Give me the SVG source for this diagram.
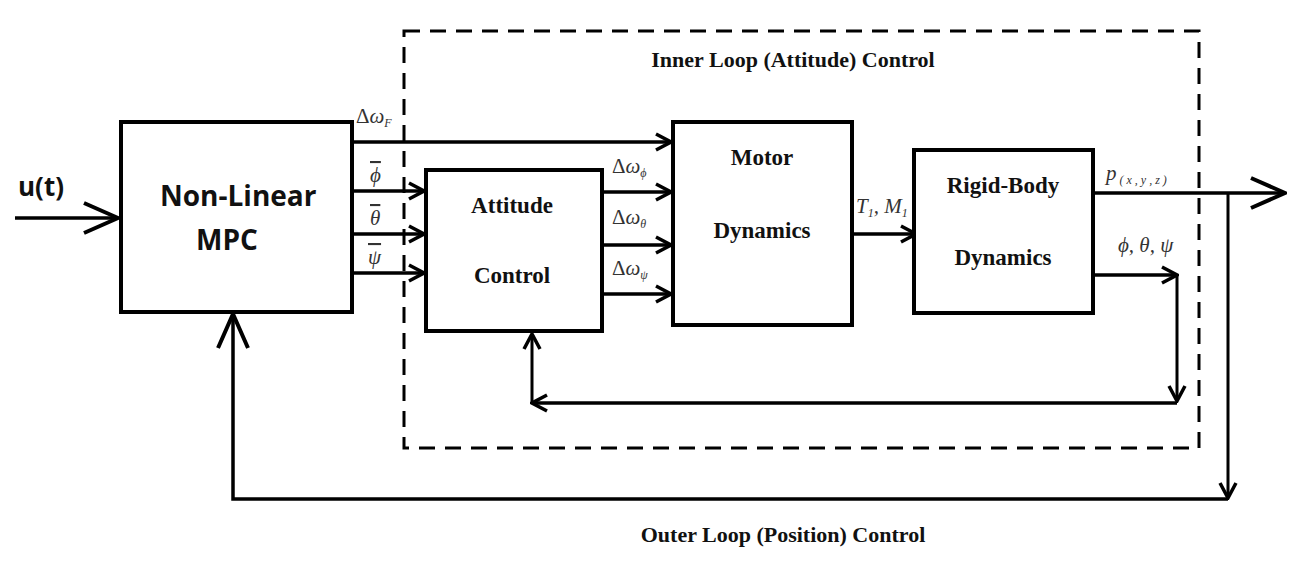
<svg xmlns="http://www.w3.org/2000/svg" width="1294" height="565" viewBox="0 0 1294 565">
<style>
.box{fill:#fff;stroke:#000;stroke-width:4}
.ln{fill:none;stroke:#000;stroke-width:3.5}
.thin{fill:none;stroke:#000;stroke-width:3}
.dash{fill:none;stroke:#000;stroke-width:3;stroke-dasharray:16 10}
.tb{font-family:"Liberation Serif",serif;font-weight:bold;fill:#111;font-size:23px;text-anchor:middle}
.sb{font-family:"Open Sans","Liberation Sans",sans-serif;font-weight:bold;fill:#111;font-size:28px}
.lab{font-family:"Liberation Serif",serif;font-style:italic;fill:#333;font-size:21px}
.up{font-style:normal}
.ov{text-decoration:overline}
.sub{font-size:12px}
</style>
<defs>
<marker id="a" viewBox="0 0 20 20" refX="18" refY="10" markerWidth="20" markerHeight="20" markerUnits="userSpaceOnUse" orient="auto"><path d="M3,2 L18,10 L3,18" fill="none" stroke="#000" stroke-width="3.5"/></marker>
<marker id="b" viewBox="0 0 40 34" refX="38" refY="17" markerWidth="40" markerHeight="34" markerUnits="userSpaceOnUse" orient="auto"><path d="M4,2 L38,17 L4,32" fill="none" stroke="#000" stroke-width="4"/></marker>
</defs>
<rect class="dash" x="404" y="31" width="795" height="417"/>
<text class="tb" x="793" y="67" style="font-size:22px">Inner Loop (Attitude) Control</text>
<text class="tb" x="783" y="542" style="font-size:22px">Outer Loop (Position) Control</text>
<g id="connectors">
<path class="ln" d="M15,218 L118,218" marker-end="url(#b)"/>
<path class="ln" d="M352,142 L671,142" marker-end="url(#a)"/>
<path class="ln" d="M352,191 L424,191" marker-end="url(#a)"/>
<path class="ln" d="M352,234 L424,234" marker-end="url(#a)"/>
<path class="ln" d="M352,273 L424,273" marker-end="url(#a)"/>
<path class="ln" d="M602,192 L671,192" marker-end="url(#a)"/>
<path class="ln" d="M602,245 L671,245" marker-end="url(#a)"/>
<path class="ln" d="M602,294 L671,294" marker-end="url(#a)"/>
<path class="ln" d="M852,234 L916,234" marker-end="url(#a)"/>
<path class="ln" d="M1093,193 L1285,193" marker-end="url(#b)"/>
<path class="ln" d="M1093,275 L1177,275" marker-end="url(#a)"/>
<path class="thin" d="M1177,275 L1177,401" marker-end="url(#a)"/>
<path class="ln" d="M1177,403 L532,403" marker-end="url(#a)"/>
<path class="thin" d="M532,403 L532,334" marker-end="url(#a)"/>
<path class="thin" d="M1228,193 L1228,498" marker-end="url(#a)"/>
<path class="ln" d="M1228,499 L233,499 L233,314" marker-end="url(#b)"/>
</g>
<g id="mpc">
<rect class="box" x="121" y="122" width="231" height="190"/>
<text class="sb" x="160" y="206">Non-Linear</text>
<text class="sb" x="196" y="250">MPC</text>
</g>
<g id="attitude">
<rect class="box" x="426" y="170" width="176" height="161"/>
<text class="tb" x="512" y="213">Attitude</text>
<text class="tb" x="512" y="283">Control</text>
</g>
<g id="motor">
<rect class="box" x="673" y="122" width="179" height="203"/>
<text class="tb" x="762" y="165">Motor</text>
<text class="tb" x="762" y="238">Dynamics</text>
</g>
<g id="rigid">
<rect class="box" x="914" y="150" width="179" height="163"/>
<text class="tb" x="1003" y="193">Rigid-Body</text>
<text class="tb" x="1003" y="265">Dynamics</text>
</g>
<g id="labels">
<text x="18" y="196" style="font-family:'Open Sans','Liberation Sans',sans-serif;font-weight:bold;font-size:26px;fill:#111">u(t)</text>
<text class="lab" x="356" y="123"><tspan class="up">Δ</tspan>ω<tspan class="sub" dy="4">F</tspan></text>
<text class="lab ov" x="370" y="182">ϕ</text>
<text class="lab ov" x="370" y="225">θ</text>
<text class="lab ov" x="368" y="264">ψ</text>
<text class="lab" x="612" y="173"><tspan class="up">Δ</tspan>ω<tspan class="sub" dy="4">ϕ</tspan></text>
<text class="lab" x="612" y="224"><tspan class="up">Δ</tspan>ω<tspan class="sub" dy="4">θ</tspan></text>
<text class="lab" x="612" y="275"><tspan class="up">Δ</tspan>ω<tspan class="sub" dy="4">ψ</tspan></text>
<text class="lab" x="856" y="213">T<tspan class="sub" dy="4">1</tspan><tspan dy="-4">, M</tspan><tspan class="sub" dy="4">1</tspan></text>
<text class="lab" x="1106" y="180">p<tspan class="sub" dy="4"> ( x , y , z )</tspan></text>
<text class="lab" x="1118" y="252">ϕ, θ, ψ</text>
</g>
</svg>
